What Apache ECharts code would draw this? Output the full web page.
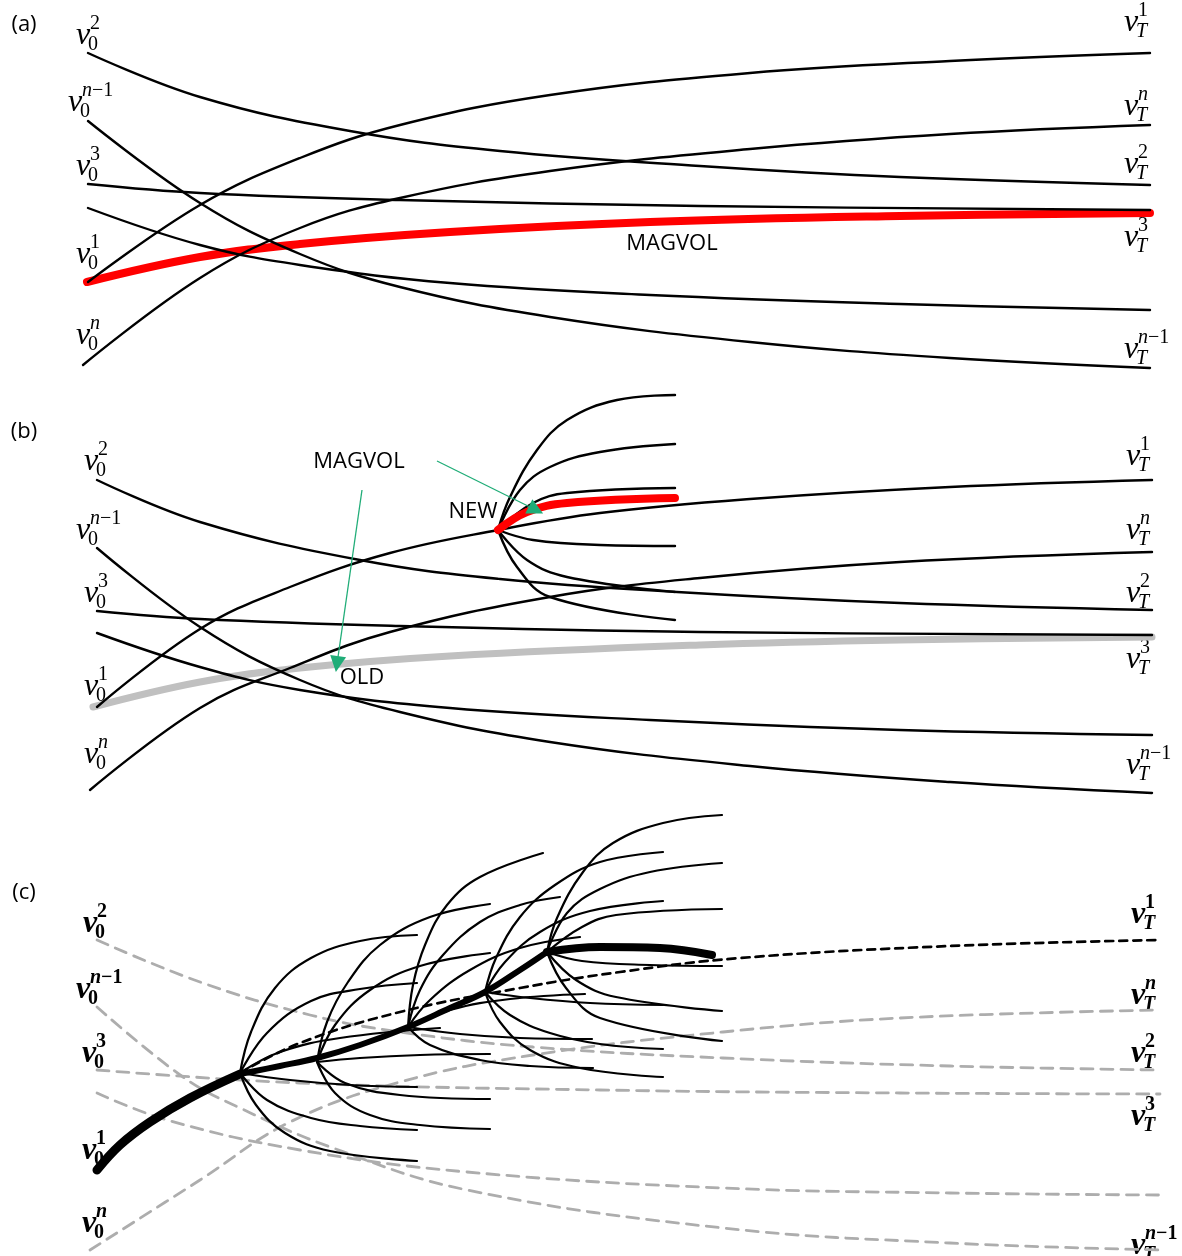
<!DOCTYPE html>
<html>
<head>
<meta charset="utf-8">
<script src="https://cdn.jsdelivr.net/npm/echarts@6/dist/echarts.min.js"></script>
<style>
  html, body { margin: 0; padding: 0; background: #ffffff; }
  #chart { width: 1182px; height: 1256px; }
</style>
</head>
<body>
<div id="chart"></div>
<script>
// ---------------------------------------------------------------
// Trajectories in diagram units: [x (time, left to right), y (downward)]
// ---------------------------------------------------------------

// (a) volatility paths and the MAGVOL path
const a_v2   = [[88,53],[200,97],[350,131],[500,151],[700,166],[900,177],[1150,185]];
const a_vn1  = [[88,121],[200,203],[300,254],[400,287],[550,317],[750,342],[950,358],[1150,368]];
const a_v3   = [[88,184],[200,193],[400,200],[700,206],[1150,210]];
const a_v4   = [[88,208],[200,245],[300,265],[450,283],[650,295],[900,304],[1150,310]];
const a_v1   = [[88,282],[200,205],[300,158],[400,125],[550,95],[750,73],[950,61],[1150,53]];
const a_vn   = [[83,365],[200,278],[300,228],[400,198],[550,171],[750,149],[950,134],[1150,125]];
const a_magvol = [[87,282],[200,257],[300,244],[450,232],[650,222],[900,216],[1150,213]];

// (b) same paths, the old MAGVOL path and the new fan from the branch point
const b_v2   = [[97,480],[200,522],[360,560],[500,579],[677,592],[900,603],[1152,610]];
const b_vn1  = [[97,548],[200,627],[300,680],[400,712],[550,742],[750,766],[950,782],[1152,793]];
const b_v3   = [[97,611],[200,619],[400,626],[700,632],[1152,635]];
const b_v4   = [[97,633],[200,667],[300,690],[450,708],[650,720],[900,730],[1152,735]];
const b_v1   = [[97,707],[200,629],[290,587],[390,553],[498,530],[600,513],[750,499],[950,487],[1152,480]];
const b_vn   = [[90,790],[200,708],[290,668],[390,632],[550,597],[700,578],[900,562],[1152,552]];
const b_old  = [[93,707],[200,682],[300,668],[450,656],[700,645],[900,640],[1152,637]];
const b_fan = [
  [[498,530],[510,497],[537,450],[567,420],[617,400],[675,395]],
  [[498,530],[520,490],[550,467],[600,452],[675,444]],
  [[498,530],[533,503],[567,493],[675,488]],
  [[498,530],[533,540],[600,545],[675,546]],
  [[498,530],[527,560],[567,577],[675,592]],
  [[498,530],[517,567],[550,597],[675,620]]
];
const b_new = [[498,530],[527,512],[567,503],[675,498]];

// (c) original paths (dashed), the true v1 path and the branching tree
const c_v2   = [[97,940],[200,982],[310,1015],[400,1032],[533,1047],[723,1058],[950,1066],[1160,1070]];
const c_vn1  = [[97,1007],[183,1077],[240,1108],[333,1148],[467,1190],[723,1228],[950,1243],[1160,1250]];
const c_v3   = [[97,1070],[300,1083],[600,1090],[900,1093],[1160,1094]];
const c_v4   = [[97,1093],[167,1120],[300,1150],[467,1172],[723,1188],[950,1193],[1160,1195]];
const c_vn   = [[90,1250],[200,1180],[290,1122],[400,1082],[533,1055],[723,1032],[900,1018],[1160,1010]];
const c_v1   = [[240,1073],[300,1043],[400,1012],[520,988],[620,972],[740,958],[950,946],[1160,940]];
const c_trunk1 = [[97,1170],[120,1145],[150,1122],[190,1098],[240,1074]];
const c_trunk2 = [[240,1074],[280,1066],[317,1058],[360,1045],[408,1027],[450,1008],[485,992],[520,970],[547,952]];
const c_trunk3 = [[547,952],[600,947],[660,948],[712,955]];
const c_fans = [
  // branch 1
  [[240,1073],[251,1032],[275,988],[311,958],[360,941],[417,935]],
  [[240,1073],[267,1033],[311,1001],[360,989],[417,983]],
  [[240,1073],[280,1052],[340,1038],[440,1028]],
  [[240,1073],[290,1080],[350,1085],[417,1087]],
  [[240,1073],[267,1100],[311,1118],[360,1126],[417,1130]],
  [[240,1073],[256,1105],[285,1133],[330,1151],[417,1161]],
  // branch 2
  [[317,1062],[327,1022],[348,982],[380,945],[430,917],[490,904]],
  [[317,1062],[335,1025],[370,990],[420,966],[490,953]],
  [[317,1062],[360,1058],[420,1055],[490,1054]],
  [[317,1062],[345,1083],[400,1095],[490,1099]],
  [[317,1062],[335,1093],[370,1115],[420,1125],[490,1129]],
  // branch 3
  [[408,1027],[413,985],[425,945],[447,905],[480,877],[543,853]],
  [[408,1027],[420,990],[443,955],[480,922],[520,905],[560,897]],
  [[408,1027],[430,1000],[470,970],[520,948],[580,937]],
  [[408,1027],[450,1010],[510,999],[585,994]],
  [[408,1027],[460,1034],[520,1038],[592,1039]],
  [[408,1027],[430,1045],[480,1060],[530,1066],[593,1068]],
  // branch 4
  [[485,992],[496,958],[520,917],[555,885],[600,862],[663,852]],
  [[485,992],[505,962],[540,932],[590,911],[663,901]],
  [[485,992],[530,998],[590,1003],[663,1005]],
  [[485,992],[510,1015],[550,1033],[600,1044],[663,1049]],
  [[485,992],[500,1022],[530,1050],[580,1068],[663,1077]],
  // branch 5
  [[547,952],[557,918],[583,872],[613,843],[663,823],[722,815]],
  [[547,952],[567,913],[600,889],[650,872],[722,863]],
  [[547,952],[582,927],[616,915],[722,909]],
  [[547,952],[582,961],[650,965],[722,966]],
  [[547,952],[576,980],[616,997],[722,1011]],
  [[547,952],[566,988],[600,1018],[722,1041]]
];

// Annotation arrows (from, to)
const arrows = [
  [[437,461],[536,510]],
  [[362,490],[337,664]]
];

// Text anchors
const panelTags = [['(a)',24,25],['(b)',24,432],['(c)',24,893]];
const notes = [['MAGVOL',672,244],['MAGVOL',359,462],['NEW',473,512],['OLD',362,678]];

// Path labels: [superscript, x, y] of the "v" glyph
const startA = [['2',83,36],['n−1',75,103],['3',83,167],['1',83,255],['n',83,336]];
const endA   = [['1',1131,23],['n',1131,107],['2',1131,165],['3',1131,238],['n−1',1131,350]];
const startB = [['2',91,462],['n−1',83,531],['3',91,594],['1',91,687],['n',91,755]];
const endB   = [['1',1133,457],['n',1133,531],['2',1133,594],['3',1133,660],['n−1',1133,766]];
const startC = [['2',90,924],['n−1',83,990],['3',89,1054],['1',89,1151],['n',89,1224]];
const endC   = [['1',1138,915],['n',1138,996],['2',1138,1054],['3',1138,1117],['n−1',1138,1246]];

// ---------------------------------------------------------------
const SERIF = "'Liberation Serif', 'Times New Roman', serif";
const SANS = "'Open Sans', 'Noto Sans', sans-serif";
const NO_STROKE = { textBorderWidth: 0, textBorderColor: 'transparent', textShadowBlur: 0, opacity: 1 };

function path(data, color, width, dash, z) {
  return {
    type: 'line', data: data, smooth: 0.4, symbol: 'none', silent: true,
    z: z, animation: false,
    lineStyle: { color: color, width: width, type: dash || 'solid', cap: 'round', join: 'round', opacity: 1 }
  };
}

function supRich(s, b) {
  const i = b ? 'ib' : 'i', r = b ? 'rb' : 'r';
  if (s === 'n') return '{' + i + '|n}';
  if (s === 'n−1') return '{' + i + '|n}{' + r + '|−1}';
  return '{' + r + '|' + s + '}';
}

function pathLabels(list, sub, bold) {
  const items = [];
  list.forEach(function (d) {
    const x = d[1], y = d[2];
    items.push({ value: [x, y], label: { formatter: bold ? '{vb|v}' : '{v|v}', align: 'center', verticalAlign: 'middle' } });
    items.push({ value: [x, y], label: { formatter: supRich(d[0], bold), align: 'left', verticalAlign: 'middle', offset: [7, -12] } });
    const subTxt = sub === 'T' ? (bold ? '{ib|T}' : '{i|T}') : (bold ? '{rb|0}' : '{r|0}');
    items.push({ value: [x, y], label: { formatter: subTxt, align: 'left', verticalAlign: 'middle', offset: [5, 9] } });
  });
  return items;
}

function rs(size, italic, bold) {
  return Object.assign({
    fontFamily: SERIF, fontSize: size, fontStyle: italic ? 'italic' : 'normal',
    fontWeight: bold ? 'bold' : 'normal', color: '#000'
  }, NO_STROKE);
}
const labelRich = {
  v: rs(32, true, false), vb: rs(32, true, true),
  i: rs(20, true, false), ib: rs(20, true, true),
  r: rs(20, false, false), rb: rs(20, false, true)
};

const series = [];

// (a)
series.push(path(a_magvol, '#ff0000', 8, null, 2));
[a_v2, a_vn1, a_v3, a_v4, a_v1, a_vn].forEach(function (d) { series.push(path(d, '#000', 2.4, null, 3)); });

// (b)
series.push(path(b_old, '#c0c0c0', 7, null, 2));
[b_v2, b_vn1, b_v3, b_v4, b_v1, b_vn].forEach(function (d) { series.push(path(d, '#000', 2.4, null, 3)); });
b_fan.forEach(function (d) { series.push(path(d, '#000', 2.4, null, 3)); });
series.push(path(b_new, '#ff0000', 8, null, 4));

// (c)
[c_v2, c_vn1, c_v3, c_v4, c_vn].forEach(function (d) { series.push(path(d, '#adadad', 2.8, [12, 8], 2)); });
c_fans.forEach(function (d) { series.push(path(d, '#000', 2.2, null, 3)); });
series.push(path(c_v1, '#000', 2.7, [8, 6], 3));
series.push(path(c_trunk1, '#000', 9, null, 4));
series.push(path(c_trunk2, '#000', 6, null, 4));
series.push(path(c_trunk3, '#000', 8, null, 4));

// arrows
series.push({
  type: 'lines', coordinateSystem: 'cartesian2d', silent: true, animation: false, z: 6,
  symbol: ['none', 'triangle'], symbolSize: [14, 16],
  lineStyle: { color: '#20ad78', width: 1.3, opacity: 1 },
  data: arrows.map(function (a) { return { coords: a }; })
});

// path labels
const labelItems = []
  .concat(pathLabels(startA, '0', false), pathLabels(endA, 'T', false))
  .concat(pathLabels(startB, '0', false), pathLabels(endB, 'T', false))
  .concat(pathLabels(startC, '0', true), pathLabels(endC, 'T', true));
series.push({
  type: 'scatter', symbolSize: 0, silent: true, animation: false, z: 1,
  itemStyle: { opacity: 1 },
  data: labelItems,
  label: Object.assign({ show: true, position: 'inside', color: '#000', rich: labelRich }, NO_STROKE)
});

// annotations and panel tags
series.push({
  type: 'scatter', symbolSize: 0, silent: true, animation: false, z: 7,
  itemStyle: { opacity: 1 },
  data: notes.map(function (n) { return { value: [n[1], n[2]], name: n[0] }; })
    .concat(panelTags.map(function (n) { return { value: [n[1], n[2]], name: n[0] }; })),
  label: Object.assign({
    show: true, position: 'inside', formatter: '{b}',
    fontFamily: SANS, fontSize: 22, color: '#000', align: 'center', verticalAlign: 'middle'
  }, NO_STROKE)
});

const chart = echarts.init(document.getElementById('chart'), null, { renderer: 'canvas' });
chart.setOption({
  animation: false,
  backgroundColor: '#ffffff',
  grid: { left: 0, right: 0, top: 0, bottom: 0 },
  xAxis: { type: 'value', min: 0, max: 1182, show: false },
  yAxis: { type: 'value', min: 0, max: 1256, inverse: true, show: false },
  series: series
});
</script>
</body>
</html>
